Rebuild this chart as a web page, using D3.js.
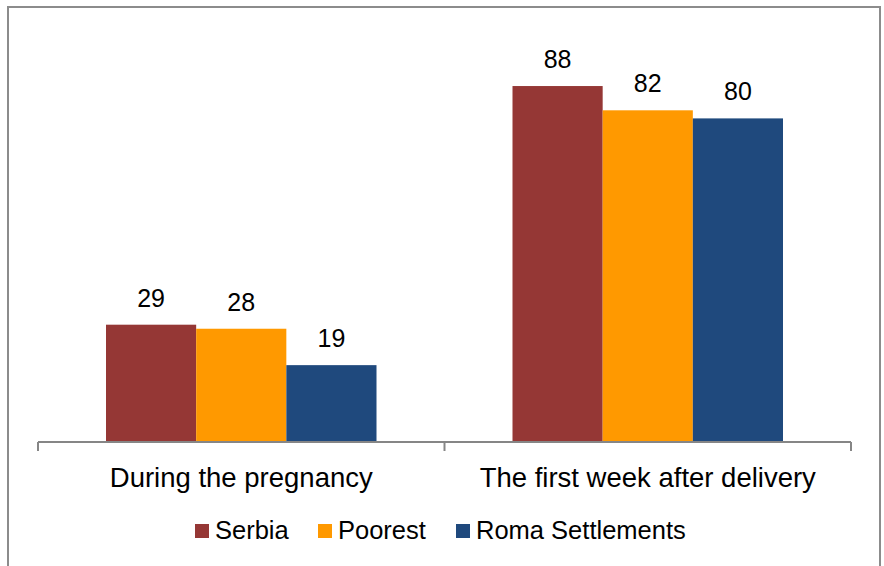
<!DOCTYPE html>
<html>
<head>
<meta charset="utf-8">
<script src="https://cdn.jsdelivr.net/npm/d3@7"></script>
<style>
  body { margin: 0; background: #fff; }
  text { font-family: "Liberation Sans", Arial, sans-serif; fill: #000; }
</style>
</head>
<body>
<svg id="chart" width="884" height="566"></svg>
<script>
// ----------
const CATEGORIES = ["During the pregnancy", "The first week after delivery"];
const SERIES = ["Serbia", "Poorest", "Roma Settlements"];
const SERBIA = [29, 88];
const POOREST = [28, 82];
const ROMA = [19, 80];
const COLORS = ["#953735", "#ff9900", "#1f497d"];

const values = [SERBIA, POOREST, ROMA];
const rows = CATEGORIES.map((c, i) => ({
  category: c,
  bars: SERIES.map((s, j) => ({ series: s, value: values[j][i], color: COLORS[j] }))
}));

// ----------
const svg = d3.select("#chart");

// outer frame (bottom edge runs past the picture)
svg.append("rect")
  .attr("x", 8).attr("y", 7)
  .attr("width", 872).attr("height", 580)
  .attr("fill", "none")
  .attr("stroke", "#8c8c8c")
  .attr("stroke-width", 2);

const x0 = d3.scaleBand().domain(CATEGORIES).range([38, 851]).paddingInner(0).paddingOuter(0);
const x1 = d3.scaleBand().domain(SERIES).range([68, x0.bandwidth() - 68]);
const y = d3.scaleLinear().domain([0, 100]).range([442, 37.5]);

const g = svg.append("g");

const groups = g.selectAll("g.grp")
  .data(rows)
  .enter()
  .append("g")
  .attr("class", "grp")
  .attr("transform", d => `translate(${x0(d.category)},0)`);

groups.selectAll("rect")
  .data(d => d.bars)
  .enter()
  .append("rect")
  .attr("x", d => x1(d.series))
  .attr("y", d => y(d.value))
  .attr("width", x1.bandwidth())
  .attr("height", d => y(0) - y(d.value))
  .attr("fill", d => d.color);

groups.selectAll("text.val")
  .data(d => d.bars)
  .enter()
  .append("text")
  .attr("class", "val")
  .attr("x", d => x1(d.series) + x1.bandwidth() / 2)
  .attr("y", d => y(d.value) - 18)
  .attr("text-anchor", "middle")
  .style("font-size", "25px")
  .text(d => d.value);

// axis
const axis = d3.axisBottom(x0).tickSize(0).tickPadding(0);
const ax = svg.append("g").attr("transform", `translate(0,${y(0)})`).call(axis);
ax.select(".domain").attr("stroke", "#868686").attr("stroke-width", 2).attr("d", `M38,0H851`);
ax.selectAll(".tick text")
  .attr("y", 45)
  .attr("dy", null)
  .style("font-size", "27.5px")
  .style("font-family", "'Liberation Sans', Arial, sans-serif")
  .attr("fill", "#000");

// tick separators between categories
const edges = [x0.range()[0]].concat(CATEGORIES.map(c => x0(c) + x0.bandwidth()));
svg.append("g").selectAll("line")
  .data(edges)
  .enter()
  .append("line")
  .attr("x1", d => d).attr("x2", d => d)
  .attr("y1", y(0)).attr("y2", y(0) + 9)
  .attr("stroke", "#868686")
  .attr("stroke-width", 2);

// legend
const legendX = [195, 318, 456];
const legend = svg.append("g").selectAll("g")
  .data(SERIES)
  .enter()
  .append("g")
  .attr("transform", (d, i) => `translate(${legendX[i]},524)`);

legend.append("rect")
  .attr("width", 14).attr("height", 14)
  .attr("fill", (d, i) => COLORS[i]);

legend.append("text")
  .attr("x", 20).attr("y", 15)
  .style("font-size", "25.5px")
  .text(d => d);
</script>
</body>
</html>
